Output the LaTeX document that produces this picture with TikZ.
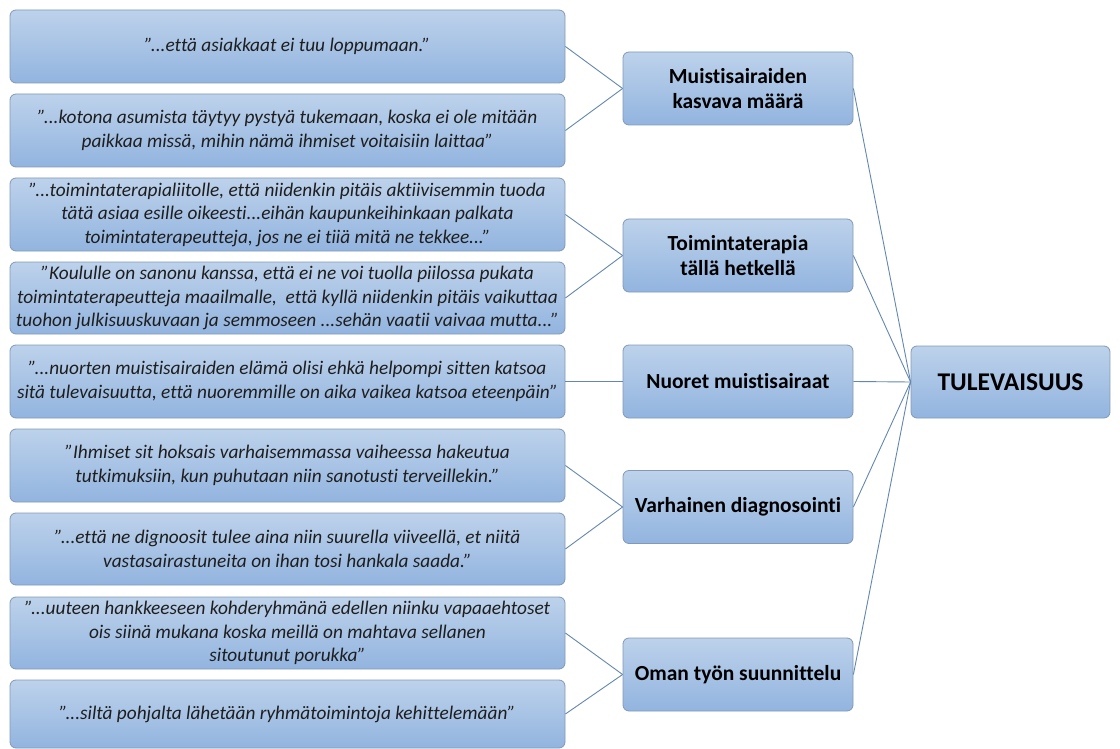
\documentclass[tikz,border=0pt]{standalone}
\usepackage{fontspec}
\setmainfont[Ligatures=NoCommon]{Carlito}
\definecolor{boxtop}{HTML}{BDD2EB}
\definecolor{boxbot}{HTML}{92B4DF}
\definecolor{boxline}{HTML}{8299B5}
\definecolor{conn}{HTML}{6388B0}
\definecolor{txt}{HTML}{1E1E1E}
\tikzset{
  box/.style={draw=boxline, line width=0.8pt, rounded corners=6pt, top color=boxtop, bottom color=boxbot, shading angle=0, inner sep=1pt, align=center, text=txt},
  quote/.style={box, minimum width=555pt, font=\fontsize{19.3}{23.5}\selectfont\itshape},
  topic/.style={box, minimum width=230pt, minimum height=73pt, font=\fontsize{21.5}{25}\selectfont\bfseries, text=black},
  link/.style={draw=conn, line width=0.9pt}
}
\begin{document}
\begin{tikzpicture}[x=1pt,y=-1pt]
\useasboundingbox (0,0) rectangle (1120,749);
\node[quote, minimum height=73pt] (q1) at (287.5,46.5) {”...että asiakkaat ei tuu loppumaan.”};
\node[quote, minimum height=73pt] (q2) at (287.5,130.5) {”...kotona asumista täytyy pystyä tukemaan, koska ei ole mitään\\paikkaa missä, mihin nämä ihmiset voitaisiin laittaa”};
\node[quote, minimum height=73pt] (q3) at (287.5,214.5) {”...toimintaterapialiitolle, että niidenkin pitäis aktiivisemmin tuoda\\tätä asiaa esille oikeesti...eihän kaupunkeihinkaan palkata\\toimintaterapeutteja, jos ne ei tiiä mitä ne tekkee...”};
\node[quote, minimum height=72pt] (q4) at (287.5,298) {”Koululle on sanonu kanssa, että ei ne voi tuolla piilossa pukata\\toimintaterapeutteja maailmalle,\ \ että kyllä niidenkin pitäis vaikuttaa\\tuohon julkisuuskuvaan ja semmoseen ...sehän vaatii vaivaa mutta...”};
\node[quote, minimum height=73pt] (q5) at (287.5,381.5) {”...nuorten muistisairaiden elämä olisi ehkä helpompi sitten katsoa\\sitä tulevaisuutta, että nuoremmille on aika vaikea katsoa eteenpäin”};
\node[quote, minimum height=73pt] (q6) at (287.5,465.5) {”Ihmiset sit hoksais varhaisemmassa vaiheessa hakeutua\\tutkimuksiin, kun puhutaan niin sanotusti terveillekin.”};
\node[quote, minimum height=72pt] (q7) at (287.5,549) {”...että ne dignoosit tulee aina niin suurella viiveellä, et niitä\\vastasairastuneita on ihan tosi hankala saada.”};
\node[quote, minimum height=72pt] (q8) at (287.5,633) {”...uuteen hankkeeseen kohderyhmänä edellen niinku vapaaehtoset\\ois siinä mukana koska meillä on mahtava sellanen\\sitoutunut porukka”};
\node[quote, minimum height=68pt] (q9) at (287.5,714) {”...siltä pohjalta lähetään ryhmätoimintoja kehittelemään”};

\node[topic] (m1) at (738,88.5) {Muistisairaiden\\kasvava määrä};
\node[topic] (m2) at (738,255.5) {Toimintaterapia\\tällä hetkellä};
\node[topic] (m3) at (738,381.5) {Nuoret muistisairaat};
\node[topic] (m4) at (738,507) {Varhainen diagnosointi};
\node[topic] (m5) at (738,674.5) {Oman työn suunnittelu};

\node[box, minimum width=199pt, minimum height=72pt, font=\fontsize{25.5}{30}\selectfont\bfseries, text=black] (t) at (1010.5,382) {TULEVAISUUS};

\path[link] (q1.east) -- (m1.west);
\path[link] (q2.east) -- (m1.west);
\path[link] (q3.east) -- (m2.west);
\path[link] (q4.east) -- (m2.west);
\path[link] (q5.east) -- (m3.west);
\path[link] (q6.east) -- (m4.west);
\path[link] (q7.east) -- (m4.west);
\path[link] (q8.east) -- (m5.west);
\path[link] (q9.east) -- (m5.west);
\foreach \m in {m1,m2,m3,m4,m5} \path[link] (\m.east) -- (t.west);
\end{tikzpicture}
\end{document}
